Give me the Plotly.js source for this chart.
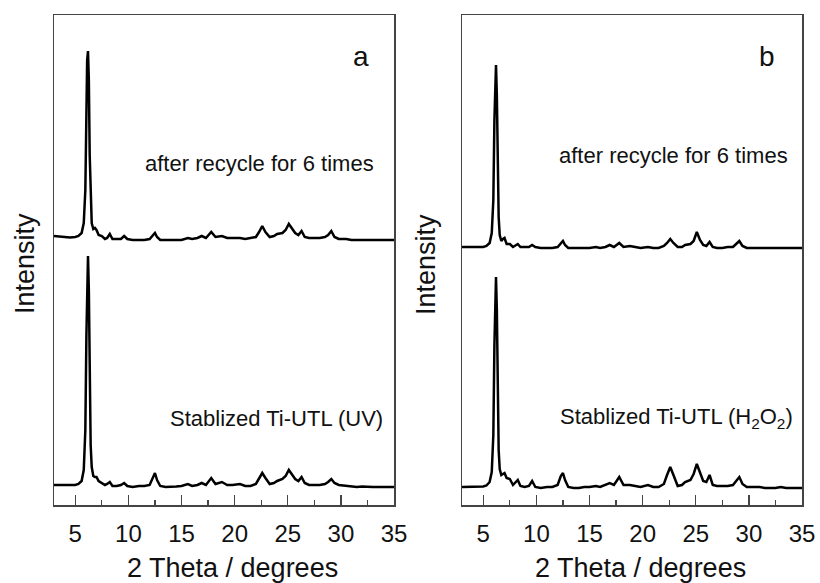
<!DOCTYPE html>
<html>
<head>
<meta charset="utf-8">
<script src="https://cdn.plot.ly/plotly-3.0.1.min.js"></script>
<style>html,body{margin:0;padding:0;background:#fff;}#chart{width:820px;height:583px;}</style>
</head>
<body>
<div id="chart"></div>
<script>
// 2θ sampling positions (degrees)
const twoTheta = [
  3.0, 3.5, 4.0, 4.5, 5.0, 5.3, 5.6, 5.8, 5.95, 6.05,
  6.12, 6.2, 6.28, 6.36, 6.45, 6.55, 6.7, 6.85, 7.0, 7.2,
  7.5, 7.8, 8.0, 8.25, 8.5, 8.9, 9.3, 9.6, 9.9, 10.4,
  11.0, 11.5, 12.0, 12.3, 12.5, 12.7, 13.0, 13.5, 14.0, 14.5,
  15.0, 15.6, 16.0, 16.5, 16.9, 17.3, 17.8, 18.2, 18.8, 19.3,
  19.8, 20.5, 21.0, 21.5, 22.0, 22.3, 22.6, 22.9, 23.3, 23.7,
  24.0, 24.5, 24.8, 25.1, 25.4, 25.7, 26.0, 26.3, 26.6, 27.0,
  27.5, 28.0, 28.5, 28.8, 29.1, 29.4, 29.8, 30.5, 31.0, 31.5,
  32.0, 32.5, 33.0, 33.5, 34.0, 34.5, 35.0
];

// Panel a: Stablized Ti-UTL (UV)  (a.u.)
const intensityA_UV = [
  20, 20, 20, 19.5, 20, 21, 24, 35, 75, 170,
  235, 249, 215, 120, 60, 38, 29, 28, 28, 24,
  22, 20, 21, 23, 19, 19, 20, 22, 19, 18,
  19, 19, 20, 27, 32, 25, 19, 18, 18, 18.5,
  19, 21, 19, 20, 22, 20, 27, 21, 23, 20,
  20, 21, 19, 19, 21, 26, 32, 27, 21, 22,
  24, 26, 29, 35, 31, 26, 24, 28, 22, 20,
  20, 20, 21, 23, 26, 22, 20, 19, 19, 18,
  18.5, 18, 18, 18, 18, 18, 18
];
// Panel a: after recycle for 6 times (a.u.)
const intensityA_Recycled = [
  24, 23.5, 23, 22.5, 23, 24, 27, 37, 70, 150,
  200, 209, 180, 105, 55, 37, 31, 32, 30, 25,
  24, 21, 22, 26, 21, 21, 21, 24, 21, 20,
  20, 20, 21, 25, 27, 23, 20, 20, 20, 20,
  20, 22, 21, 22, 24, 22, 28, 23, 24, 22,
  22, 22, 21, 22, 23, 28, 34, 28, 23, 24,
  26, 27, 30, 36, 31, 27, 25, 29, 23, 22,
  22, 22, 23, 25, 29, 23, 21, 21, 20, 20,
  20, 20, 20, 20, 20, 20, 20
];
// Panel b: Stablized Ti-UTL (H2O2) (a.u.)
const intensityB_H2O2 = [
  18, 18, 18, 18, 18.5, 19.5, 23, 33, 70, 160,
  215, 228, 195, 110, 55, 36, 30, 31, 32, 27,
  26, 20, 22, 25, 19, 18, 19, 24, 18, 17,
  18, 18, 20, 29, 32, 25, 18, 17, 17, 18,
  18, 19, 18, 20, 22, 20, 28, 20, 20, 19,
  18, 20, 18, 18, 21, 30, 38, 30, 19, 20,
  23, 25, 31, 41, 32, 24, 23, 30, 20, 19,
  19, 19, 20, 24, 28, 21, 18, 18, 18, 17,
  17, 17, 18, 17, 17, 17, 17
];
// Panel b: after recycle for 6 times (a.u.)
const intensityB_Recycled = [
  18, 18, 18, 18, 18, 19, 22, 32, 65, 145,
  190, 200, 170, 95, 48, 30, 24, 26, 27, 21,
  21, 18, 19, 21, 18, 18, 18, 20, 18, 17,
  17, 17, 18, 22, 24, 20, 17, 17, 17, 17,
  17, 18, 17, 18, 20, 18, 22, 18, 19, 18,
  17, 18, 17, 17, 19, 22, 26, 22, 18, 18,
  20, 21, 24, 33, 25, 20, 19, 23, 18, 17,
  17, 18, 18, 21, 24, 19, 17, 17, 17, 17,
  17, 17, 17, 17, 17, 17, 17
];

const stackOffsetA = 245;
const stackOffsetB = 240;

const xTicks = [5, 10, 15, 20, 25, 30, 35];
const xRange = [3, 35];
const yRange = [0, 490];

const lineStyle = {color: '#000', width: 2.5};
const shift = (arr, off) => arr.map(v => v + off);

const traces = [
  {x: twoTheta, y: intensityA_UV, xaxis: 'x', yaxis: 'y', mode: 'lines', line: lineStyle, name: 'Stablized Ti-UTL (UV)'},
  {x: twoTheta, y: shift(intensityA_Recycled, stackOffsetA), xaxis: 'x', yaxis: 'y', mode: 'lines', line: lineStyle, name: 'after recycle (a)'},
  {x: twoTheta, y: intensityB_H2O2, xaxis: 'x2', yaxis: 'y2', mode: 'lines', line: lineStyle, name: 'Stablized Ti-UTL (H2O2)'},
  {x: twoTheta, y: shift(intensityB_Recycled, stackOffsetB), xaxis: 'x2', yaxis: 'y2', mode: 'lines', line: lineStyle, name: 'after recycle (b)'}
];

const W = 820, H = 583;
const px = v => v / W;
const py = v => 1 - v / H;
const frameColor = '#444';
const fontFam = '"Liberation Sans", Arial, sans-serif';

function xAxis(domain, anchor) {
  return {
    domain: domain, anchor: anchor, range: xRange,
    tickvals: xTicks, ticktext: xTicks.map(String),
    ticks: 'inside', ticklen: 10, tickwidth: 1.3, tickcolor: frameColor,
    minor: {ticks: 'inside', ticklen: 5, tickwidth: 1.3, tickcolor: frameColor, dtick: 2.5, tick0: 0, showgrid: false},
    showline: true, linecolor: frameColor, linewidth: 1.5, mirror: true,
    showgrid: false, zeroline: false,
    tickfont: {family: fontFam, size: 24, color: '#111'},
    ticklabelstandoff: 7
  };
}
function yAxis(anchor) {
  return {
    domain: [1 - 505 / H, 1 - 15 / H], anchor: anchor, range: yRange,
    showticklabels: false, ticks: '',
    showline: true, linecolor: frameColor, linewidth: 1.5, mirror: true,
    showgrid: false, zeroline: false
  };
}

const annFont = {family: fontFam, size: 22, color: '#111'};
const titleFont = {family: fontFam, size: 27, color: '#111'};
function ann(x, y, text, font, xanchor, extra) {
  return Object.assign({xref: 'paper', yref: 'paper', x: px(x), y: py(y), text: text,
    showarrow: false, font: font, xanchor: xanchor || 'center', yanchor: 'middle'}, extra || {});
}
const layout = {
  width: W, height: H,
  margin: {l: 0, r: 0, t: 0, b: 0},
  paper_bgcolor: '#fff', plot_bgcolor: '#fff',
  showlegend: false,
  xaxis: xAxis([px(54), px(394)], 'y'),
  yaxis: yAxis('x'),
  xaxis2: xAxis([px(462), px(802)], 'y2'),
  yaxis2: yAxis('x2'),
  annotations: [
    ann(233, 568, '2 Theta / degrees', titleFont),
    ann(640, 568, '2 Theta / degrees', titleFont),
    ann(25, 264, 'Intensity', titleFont, 'center', {textangle: -90}),
    ann(426, 265, 'Intensity', titleFont, 'center', {textangle: -90}),
    ann(361, 56, 'a', {family: fontFam, size: 28, color: '#111'}),
    ann(767, 56, 'b', {family: fontFam, size: 28, color: '#111'}),
    ann(376, 163, 'after recycle for 6 times', annFont, 'right'),
    ann(385, 418, 'Stablized Ti-UTL (UV)', annFont, 'right'),
    ann(790, 155, 'after recycle for 6 times', annFont, 'right'),
    ann(795, 418, 'Stablized Ti-UTL (H<sub>2</sub>O<sub>2</sub>)', annFont, 'right')
  ]
};

Plotly.newPlot('chart', traces, layout, {staticPlot: true, displayModeBar: false});
</script>
</body>
</html>
